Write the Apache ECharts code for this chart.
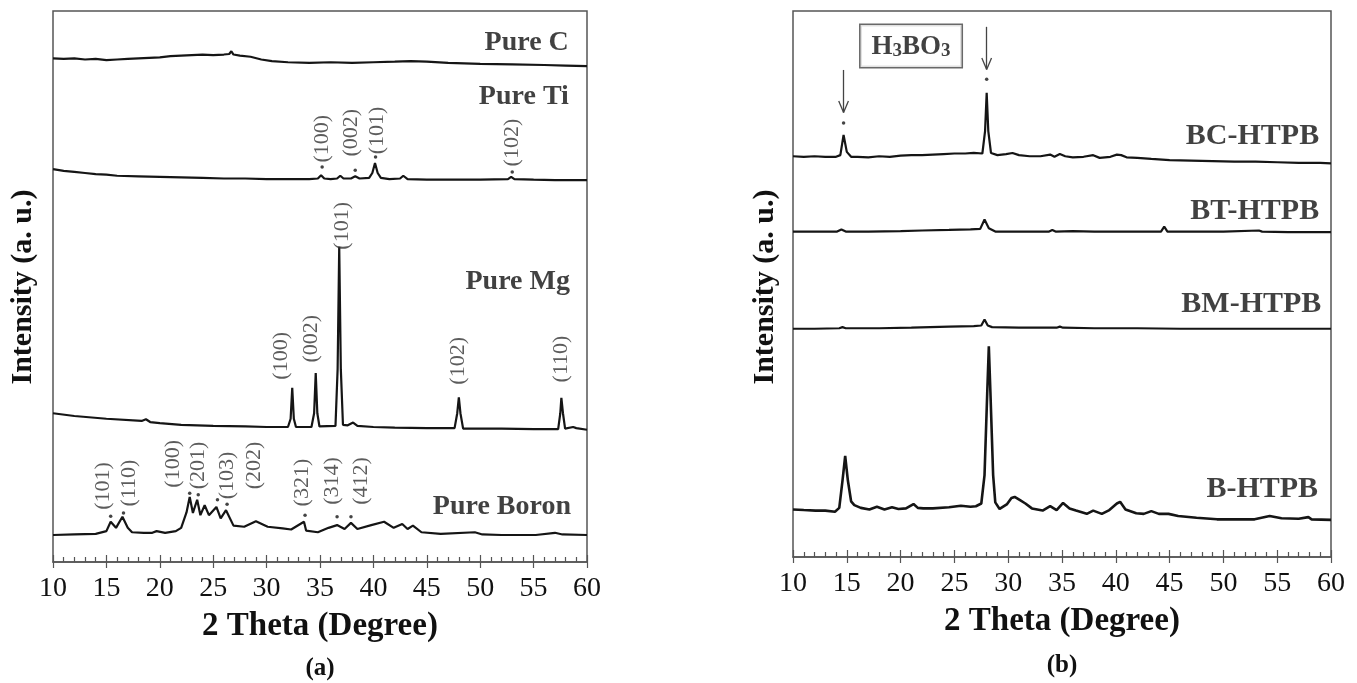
<!DOCTYPE html>
<html>
<head>
<meta charset="utf-8">
<script src="https://cdn.jsdelivr.net/npm/echarts@6/dist/echarts.min.js"></script>
<style>
  html, body { margin: 0; padding: 0; background: #fff; }
  #main { width: 1357px; height: 683px; }
</style>
</head>
<body>
<div id="main"></div>
<script>
// ---- panel (a): pure powders, stacked traces [2theta, intensity a.u.] ----
var pureC = [[10,91.4],[11,91.3],[12,91.4],[13,91.2],[14,91.3],[15,91.1],[16,91.2],[17,91.3],[18,91.4],[19,91.5],
  [20,91.6],[21,91.8],[22,91.9],[23,92.0],[24,92.1],[25,92.0],[26,92.1],[26.5,92.2],[26.7,92.7],[26.9,92.1],
  [27.5,91.9],[28.5,91.7],[29.5,91.2],[30.5,90.9],[32,90.7],[34,90.6],[36,90.7],[38,90.6],[40,90.7],[42,90.8],
  [43.5,90.9],[45,90.8],[47,90.6],[50,90.4],[53,90.3],[56,90.2],[58,90.1],[60,90.0]];
var pureTi = [[10,71.3],[11,71.0],[12,70.8],[13,70.6],[14,70.4],[15,70.3],[16,70.1],[18,70.0],[20,69.9],[22,69.8],
  [24,69.7],[26,69.6],[28,69.6],[30,69.5],[32,69.5],[34,69.5],[34.8,69.6],[35.1,70.2],[35.4,69.6],[36.0,69.5],
  [36.6,69.6],[36.9,70.1],[37.2,69.6],[37.9,69.6],[38.3,70.0],[38.7,69.6],[39.6,69.7],[39.9,70.6],[40.15,72.4],
  [40.4,70.6],[40.7,69.7],[41.5,69.5],[42.5,69.6],[42.8,70.1],[43.2,69.5],[45,69.4],[48,69.4],[50,69.4],
  [52.6,69.5],[52.9,69.9],[53.2,69.5],[55,69.4],[57,69.3],[60,69.3]];
var pureMg = [[10,27.0],[12,26.5],[15,26.0],[18.3,25.6],[18.7,25.9],[19.1,25.4],[20,25.2],[22,24.9],[25,24.7],
  [28,24.6],[30,24.5],[32.0,24.5],[32.25,26.0],[32.4,31.6],[32.55,26.0],[32.75,24.5],[34.2,24.5],[34.45,27.0],
  [34.6,34.3],[34.75,27.0],[34.95,24.6],[36.45,24.7],[36.65,35.0],[36.8,57.2],[36.95,35.0],[37.15,24.9],
  [37.6,24.8],[38.1,25.3],[38.5,24.7],[40,24.5],[42,24.4],[45,24.3],[47.6,24.3],[47.85,27.0],[48.0,29.9],
  [48.15,27.0],[48.4,24.2],[52,24.2],[55,24.1],[57.3,24.1],[57.5,27.0],[57.6,29.8],[57.75,27.0],[57.95,24.2],
  [58.7,24.5],[59.0,24.3],[60,24.0]];
var pureB = [[10,4.9],[12,5.0],[14,5.1],[15.0,5.6],[15.4,7.3],[15.9,6.2],[16.5,8.2],[17.0,6.2],[17.4,5.4],
  [18.5,5.3],[19.3,5.3],[19.7,5.6],[20.5,5.3],[21.5,5.6],[22.0,6.2],[22.5,9.0],[22.8,11.8],[23.1,8.9],
  [23.5,11.3],[23.8,8.5],[24.2,10.3],[24.6,8.5],[25.3,10.0],[25.7,7.9],[26.2,9.4],[26.9,6.6],[27.9,6.4],
  [29.0,7.4],[30.1,6.4],[31.5,6.1],[32.3,5.9],[33.5,7.3],[33.7,5.7],[34.8,5.4],[35.8,6.2],[36.6,6.7],
  [37.3,6.0],[37.9,7.1],[38.5,6.0],[39.8,6.7],[41.0,7.3],[41.9,6.2],[42.7,6.9],[43.2,6.0],[43.7,6.6],
  [44.5,5.4],[46.3,5.1],[49.5,5.4],[50.2,5.0],[52,4.9],[55.2,4.9],[57.0,5.3],[57.7,5.0],[60,4.9]];

var leftNames = [[58.3,94.2,'Pure C'],[58.3,84.4,'Pure Ti'],[58.4,50.8,'Pure Mg'],[58.5,10.0,'Pure Boron']];
var tiDots = [[35.2,71.7],[38.3,71.1],[40.2,73.5],[53.0,70.8]];
var borDots = [[15.4,8.3],[16.6,8.9],[22.8,12.5],[23.6,12.2],[25.4,11.3],[26.3,10.5],[33.6,8.5],[36.6,8.2],[37.9,8.2]];
var leftHkl = [[35.2,72.4,'(100)'],[37.9,73.5,'(002)'],[40.4,73.9,'(101)'],[53.0,71.7,'(102)'],
  [31.35,33.0,'(100)'],[34.2,36.1,'(002)'],[37.1,56.6,'(101)'],[47.9,32.1,'(102)'],[57.6,32.5,'(110)'],
  [14.7,9.4,'(101)'],[17.1,10.0,'(110)'],[21.3,13.4,'(100)'],[23.6,13.1,'(201)'],[26.3,11.3,'(103)'],
  [28.8,13.1,'(202)'],[33.3,10.0,'(321)'],[36.1,10.3,'(314)'],[38.9,10.3,'(412)']];

// ---- panel (b): boron composites in HTPB ----
var bcHtpb = [[10,73.4],[11,73.3],[12,73.4],[13,73.3],[14,73.3],[14.4,73.6],[14.7,77.3],[15.0,74.2],[15.4,73.3],
  [16,73.3],[17,73.2],[18,73.4],[19,73.3],[20,73.5],[21,73.6],[22,73.6],[23,73.7],[24,73.8],[25,73.9],[26,73.9],
  [26.8,74.0],[27.6,73.9],[27.85,78.0],[28.0,85.0],[28.15,78.0],[28.4,74.0],[29,73.6],[29.8,73.8],[30.4,74.0],
  [31,73.6],[32,73.4],[33,73.4],[33.9,73.7],[34.3,73.3],[34.8,73.8],[35.3,73.4],[36,73.2],[37,73.3],[37.9,73.6],
  [38.5,73.1],[39.5,73.3],[40.1,73.7],[40.5,73.6],[41,73.2],[42,73.1],[43.3,72.9],[45,72.7],[47,72.6],[49,72.5],
  [51,72.4],[53,72.4],[55,72.3],[57,72.2],[59,72.2],[60,72.1]];
var btHtpb = [[10,59.6],[12,59.6],[14.1,59.6],[14.5,60.0],[14.9,59.6],[17,59.6],[20,59.7],[22,59.8],[24.5,59.9],
  [26.5,60.0],[27.4,60.1],[27.8,61.8],[28.2,60.2],[28.8,59.6],[31,59.6],[33.8,59.6],[34.1,59.9],[34.4,59.6],
  [36,59.7],[38,59.6],[40,59.6],[42,59.6],[44.2,59.6],[44.5,60.5],[44.8,59.6],[47,59.6],[50,59.6],[53.3,59.8],
  [53.6,59.6],[56,59.5],[60,59.5]];
var bmHtpb = [[10,41.8],[12,41.8],[14.3,41.9],[14.6,42.1],[14.9,41.9],[18,41.9],[21,42.0],[24.5,42.2],[26.8,42.3],
  [27.5,42.4],[27.8,43.5],[28.1,42.4],[28.5,42.1],[31,42.0],[34.5,42.0],[34.8,42.2],[35.1,42.0],[38,41.9],
  [42,41.9],[46,41.8],[50,41.8],[55,41.8],[60,41.8]];
var bHtpb = [[10,8.7],[11,8.6],[12.1,8.5],[13,8.5],[13.9,8.3],[14.3,9.0],[14.6,14.0],[14.85,18.5],[15.1,14.0],
  [15.4,10.2],[15.7,9.5],[16.3,9.0],[17.1,8.7],[17.8,9.2],[18.5,8.7],[19.2,9.1],[19.8,8.8],[20.5,8.9],[21.2,9.7],
  [21.6,9.0],[22.1,8.9],[23,8.9],[24.5,9.1],[25.6,9.4],[26.5,9.2],[27.0,9.3],[27.5,9.8],[27.8,15.0],[28.05,30.0],
  [28.2,38.6],[28.35,30.0],[28.6,15.0],[28.8,10.0],[29.2,8.8],[29.9,9.7],[30.3,10.8],[30.6,11.0],[31.1,10.4],
  [31.6,9.8],[32.2,8.9],[33.2,8.5],[33.9,9.3],[34.5,8.6],[35.1,9.9],[35.7,8.9],[36.3,8.5],[37.3,7.9],[37.9,8.5],
  [38.7,7.9],[39.4,8.6],[40.1,9.8],[40.4,10.1],[40.9,8.7],[41.9,8.0],[42.6,7.9],[43.3,8.4],[44.0,7.9],[44.9,7.9],
  [45.8,7.5],[47.5,7.2],[49.4,6.9],[51,6.9],[52.9,6.9],[54.3,7.5],[55.4,7.1],[57,7.0],[57.9,7.3],[58.2,6.9],[60,6.8]];

var rightNames = [[58.9,76.9,'BC-HTPB'],[58.9,63.2,'BT-HTPB'],[59.1,46.2,'BM-HTPB'],[58.8,12.3,'B-HTPB']];
var h3bo3Dots = [[14.7,79.5],[28.0,87.5]];
// arrow: [2theta, tail, tip]
var h3bo3Arrows = [[14.7,89.2,81.4],[28.0,97.1,89.3]];
var h3bo3Box = [[20.97,93.5]];

var xTicks = [10, 60, 5];

var FONT = "'Liberation Serif', 'Times New Roman', serif";
var INK = '#151515';
var TXT = '#111';
var FRAME = '#555';

function xAxes(grid) {
  return [{
    gridIndex: grid, type: 'value', min: xTicks[0], max: xTicks[1], interval: xTicks[2],
    name: '2 Theta (Degree)', nameLocation: 'middle', nameGap: 48,
    nameTextStyle: { fontFamily: FONT, fontWeight: 'bold', fontSize: 33, color: TXT },
    axisLine: { lineStyle: { color: FRAME, width: 1.5 } },
    axisTick: { inside: true, length: 7, lineStyle: { color: FRAME, width: 1.2 } },
    minorTick: { show: true, splitNumber: 5, length: 5, lineStyle: { color: FRAME, width: 1.2 } },
    axisLabel: { margin: 13, fontFamily: FONT, fontSize: 28, color: TXT, showMinLabel: true, showMaxLabel: true },
    splitLine: { show: false }
  }, {
    gridIndex: grid, type: 'value', min: xTicks[0], max: xTicks[1], interval: xTicks[2], position: 'bottom',
    axisLine: { show: false },
    axisTick: { inside: false, length: 6, lineStyle: { color: FRAME, width: 1.2 } },
    axisLabel: { show: false }, splitLine: { show: false }
  }];
}

function yAxis(grid) {
  return { gridIndex: grid, type: 'value', min: 0, max: 100, show: false };
}

function trace(data, xi, yi, w) {
  return { type: 'line', xAxisIndex: xi, yAxisIndex: yi, data: data, symbol: 'none', silent: true,
    lineStyle: { color: INK, width: w || 2.2 } };
}

function dots(data, xi, yi) {
  return { type: 'scatter', xAxisIndex: xi, yAxisIndex: yi, data: data, symbol: 'circle', symbolSize: 3.5,
    itemStyle: { color: INK }, silent: true };
}

function texts(data, xi, yi, opt) {
  return { type: 'scatter', xAxisIndex: xi, yAxisIndex: yi, data: data, symbolSize: 1, silent: true, z: 5,
    itemStyle: { color: 'rgba(0,0,0,0)' },
    label: Object.assign({ show: true, position: 'top', distance: 0, color: TXT, fontFamily: FONT,
      formatter: function (p) { return p.value[2]; } }, opt) };
}

// shaft plus two open arms for each arrow
var arrowLines = [];
h3bo3Arrows.forEach(function (a) {
  arrowLines.push([{ coord: [a[0], a[1]] }, { coord: [a[0], a[2]] }]);
  arrowLines.push([{ coord: [a[0] - 0.45, a[2] + 2.1] }, { coord: [a[0], a[2]] }]);
  arrowLines.push([{ coord: [a[0] + 0.45, a[2] + 2.1] }, { coord: [a[0], a[2]] }]);
});

var option = {
  animation: false,
  backgroundColor: '#fff',
  grid: [
    { left: 53, top: 11, width: 534, height: 551, show: true, borderColor: FRAME, borderWidth: 1.5 },
    { left: 793, top: 11, width: 538, height: 546, show: true, borderColor: FRAME, borderWidth: 1.5 }
  ],
  xAxis: xAxes(0).concat(xAxes(1)),
  yAxis: [yAxis(0), yAxis(1)],
  graphic: [
    { type: 'text', x: 23, y: 287, rotation: Math.PI / 2,
      style: { text: 'Intensity (a. u.)', font: 'bold 30px ' + FONT, fill: TXT, align: 'center', verticalAlign: 'middle' } },
    { type: 'text', x: 765, y: 287, rotation: Math.PI / 2,
      style: { text: 'Intensity (a. u.)', font: 'bold 30px ' + FONT, fill: TXT, align: 'center', verticalAlign: 'middle' } },
    { type: 'text', x: 320, y: 669,
      style: { text: '(a)', font: 'bold 25px ' + FONT, fill: TXT, align: 'center', verticalAlign: 'middle' } },
    { type: 'text', x: 1062, y: 666,
      style: { text: '(b)', font: 'bold 25px ' + FONT, fill: TXT, align: 'center', verticalAlign: 'middle' } }
  ],
  series: [
    trace(pureC, 0, 0), trace(pureTi, 0, 0), trace(pureMg, 0, 0), trace(pureB, 0, 0),
    dots(tiDots, 0, 0), dots(borDots, 0, 0),
    texts(leftNames, 0, 0, { align: 'right', verticalAlign: 'middle', fontSize: 28, fontWeight: 'bold' }),
    texts(leftHkl, 0, 0, { align: 'left', verticalAlign: 'middle', rotate: 90, fontSize: 22, color: '#333' }),

    Object.assign(trace(bcHtpb, 2, 1), {
      markLine: { silent: true, animation: false, symbol: ['none', 'none'], label: { show: false },
        lineStyle: { color: '#444', width: 1.3, type: 'solid' }, data: arrowLines }
    }),
    trace(btHtpb, 2, 1), trace(bmHtpb, 2, 1), trace(bHtpb, 2, 1, 2.6),
    dots(h3bo3Dots, 2, 1),
    texts(rightNames, 2, 1, { align: 'right', verticalAlign: 'middle', fontSize: 30, fontWeight: 'bold' }),
    texts(h3bo3Box.map(function (b) { return [b[0], b[1], '{m|H}{s|3}{m|BO}{s|3}']; }), 2, 1, {
      align: 'center', verticalAlign: 'middle', borderColor: '#444', borderWidth: 1.5, padding: [6, 11],
      backgroundColor: '#fff',
      rich: {
        m: { fontFamily: FONT, fontWeight: 'bold', fontSize: 27, lineHeight: 30, color: TXT, verticalAlign: 'bottom' },
        s: { fontFamily: FONT, fontWeight: 'bold', fontSize: 19, lineHeight: 19, color: TXT, verticalAlign: 'bottom' }
      }
    })
  ]
};

var chart = echarts.init(document.getElementById('main'));
chart.setOption(option);
</script>
</body>
</html>
